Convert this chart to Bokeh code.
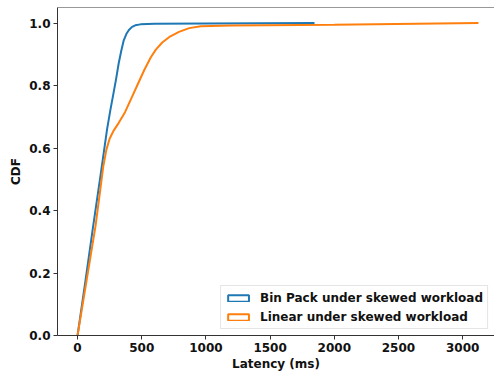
import numpy as np
from bokeh.plotting import figure
from bokeh.models import Range1d, Legend, LegendItem, Span, FixedTicker, ColumnDataSource
from bokeh.embed import file_html
from bokeh.resources import INLINE

# Latency (ms) and CDF values
binpack_latency = [0, 60, 120, 180, 230, 255, 280, 300, 320, 340, 360, 380, 400, 425, 450, 490, 600, 1000, 1846]
binpack_cdf = [0.0, 0.17, 0.345, 0.515, 0.66, 0.72, 0.775, 0.82, 0.87, 0.91, 0.945, 0.965, 0.978, 0.988, 0.993, 0.996, 0.998, 0.999, 1.0]

linear_latency = [0, 70, 140, 175, 200, 225, 250, 280, 320, 370, 420, 470, 520, 570, 610, 660, 720, 790, 870, 960, 1200, 2000, 3123]
linear_cdf = [0.0, 0.175, 0.35, 0.46, 0.54, 0.595, 0.63, 0.655, 0.68, 0.715, 0.76, 0.805, 0.85, 0.89, 0.915, 0.938, 0.957, 0.972, 0.984, 0.99, 0.992, 0.995, 1.0]

series_names = ["Bin Pack under skewed workload", "Linear under skewed workload"]
series_colors = ["#1f77b4", "#ff7f0e"]
x_ticks = [0, 500, 1000, 1500, 2000, 2500, 3000]
y_ticks = [0.0, 0.2, 0.4, 0.6, 0.8, 1.0]

FONT = "DejaVu Sans"

p = figure(width=494, height=373, output_backend="svg", toolbar_location=None,
           x_range=Range1d(-156, 3248), y_range=Range1d(0, 1.05),
           min_border_left=57, min_border_right=0, min_border_top=7, min_border_bottom=38)

p.outline_line_color = None
p.xgrid.visible = False
p.ygrid.visible = False

r1 = p.line(binpack_latency, binpack_cdf, line_color=series_colors[0], line_width=2)
r2 = p.line(linear_latency, linear_cdf, line_color=series_colors[1], line_width=2)

# top spine
p.add_layout(Span(location=1.05, dimension="width", line_color="#333333", line_width=1))

for ax in (p.xaxis[0], p.yaxis[0]):
    ax.axis_line_color = "#333333"
    ax.major_tick_line_color = "#333333"
    ax.minor_tick_line_color = None
    ax.major_tick_in = 0
    ax.major_tick_out = 4
    ax.major_label_text_font = FONT
    ax.major_label_text_font_style = "bold"
    ax.major_label_text_font_size = "12px"
    ax.major_label_text_color = "#111111"
    ax.axis_label_text_font = FONT
    ax.axis_label_text_font_style = "bold"
    ax.axis_label_text_font_size = "12px"
    ax.axis_label_text_color = "#111111"

p.xaxis.ticker = FixedTicker(ticks=x_ticks)
p.yaxis.ticker = FixedTicker(ticks=y_ticks)
p.yaxis.major_label_overrides = {t: f"{t:.1f}" for t in y_ticks}
p.xaxis.axis_label = "Latency (ms)"
p.yaxis.axis_label = "CDF"
p.xaxis.major_label_standoff = 3
p.xaxis.axis_label_standoff = 2
p.yaxis.major_label_standoff = 3
p.yaxis.axis_label_standoff = 3

# legend with rectangle handles (glyphs carry no visible data)
nan_src = lambda: ColumnDataSource(dict(left=np.array([np.nan]), right=np.array([np.nan]),
                                         top=np.array([np.nan]), bottom=np.array([np.nan])))
h1 = p.quad(source=nan_src(), left="left", right="right", top="top", bottom="bottom",
            fill_color="white", line_color=series_colors[0], line_width=2)
h2 = p.quad(source=nan_src(), left="left", right="right", top="top", bottom="bottom",
            fill_color="white", line_color=series_colors[1], line_width=2)

legend = Legend(items=[LegendItem(label=series_names[0], renderers=[h1], index=0),
                       LegendItem(label=series_names[1], renderers=[h2], index=0)],
                location="bottom_right")
legend.label_text_font = FONT
legend.label_text_font_style = "bold"
legend.label_text_font_size = "12px"
legend.label_text_color = "#111111"
legend.glyph_width = 26
legend.glyph_height = 8
legend.label_height = 15
legend.label_standoff = 9
legend.spacing = 4
legend.padding = 4
legend.margin = 6
legend.border_line_color = "#cccccc"
legend.border_line_width = 1
legend.background_fill_alpha = 0.85
p.add_layout(legend)

open("out.html", "w").write(file_html(p, INLINE))
